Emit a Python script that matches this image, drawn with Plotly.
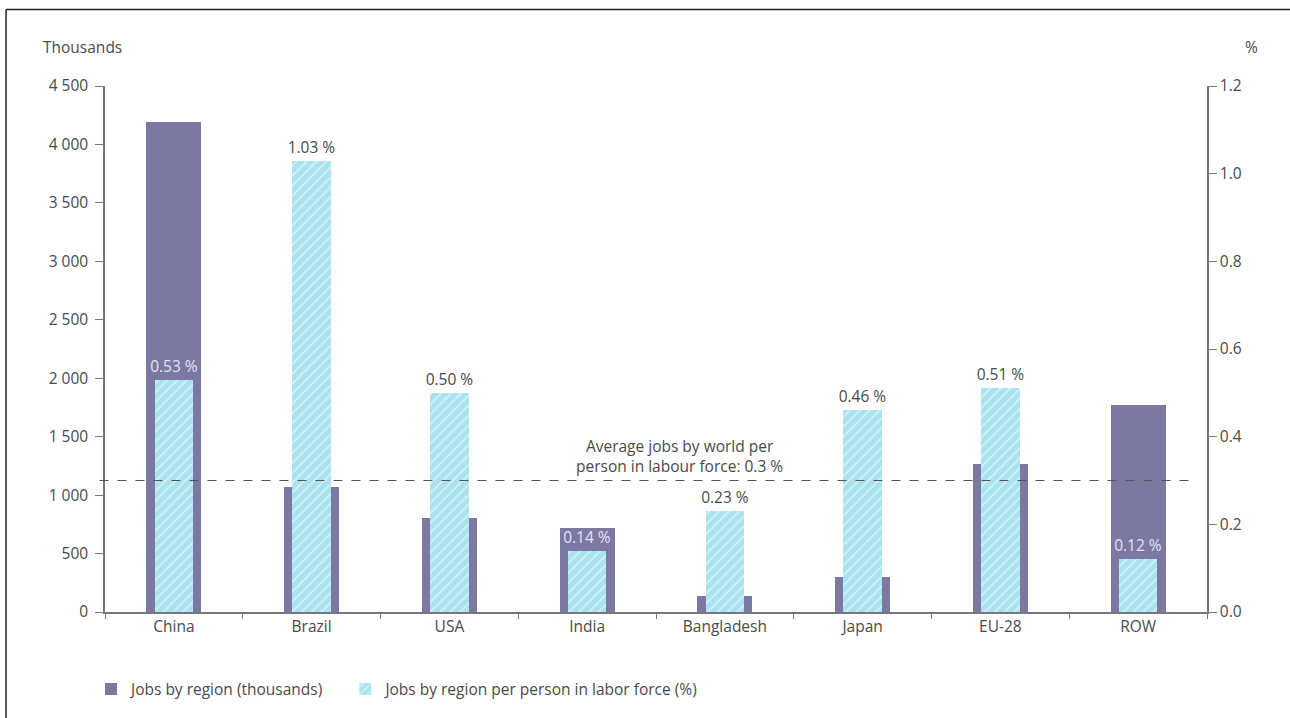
import plotly.graph_objects as go

regions = ["China", "Brazil", "USA", "India", "Bangladesh", "Japan", "EU-28", "ROW"]
jobs_thousands = [4190, 1070, 800, 720, 140, 300, 1270, 1770]
jobs_pct = [0.53, 1.03, 0.50, 0.14, 0.23, 0.46, 0.51, 0.12]
pct_labels = ["0.53 %", "1.03 %", "0.50 %", "0.14 %", "0.23 %", "0.46 %", "0.51 %", "0.12 %"]
left_ticks = [0, 500, 1000, 1500, 2000, 2500, 3000, 3500, 4000, 4500]
left_ticktext = ["0", "500", "1 000", "1 500", "2 000", "2 500", "3 000", "3 500", "4 000", "4 500"]
right_ticks = [0.0, 0.2, 0.4, 0.6, 0.8, 1.0, 1.2]
right_ticktext = ["0.0", "0.2", "0.4", "0.6", "0.8", "1.0", "1.2"]
world_avg = 0.3

DARK = "#7b79a1"
LIGHT = "#a9e3ef"
TXT = "#4a4a4a"
FONT = "Open Sans"
FS = 15.5

label_colors = []
for v, p in zip(jobs_thousands, jobs_pct):
    inside = (v / 4500) > (p / 1.2)
    label_colors.append("#e6e0f5" if inside else TXT)

fig = go.Figure()
fig.add_trace(go.Bar(
    x=regions, y=jobs_thousands, name="Jobs by region (thousands)" + "\u00a0" * 4,
    marker=dict(color=DARK, line=dict(width=0)), width=0.4, yaxis="y",
))
fig.add_trace(go.Bar(
    x=regions, y=jobs_pct, name="Jobs by region per person in labor force (%)",
    marker=dict(color=LIGHT, line=dict(width=0),
                pattern=dict(shape="/", fgcolor="#ffffff", bgcolor=LIGHT, size=7, solidity=0.25)),
    width=0.28, yaxis="y2",
    text=pct_labels, textposition="outside", cliponaxis=False, constraintext="none",
    textfont=dict(color=label_colors, size=FS, family=FONT),
))

fig.add_shape(type="line", xref="paper", yref="y2", x0=-0.005, x1=0.985,
              y0=world_avg, y1=world_avg, line=dict(color="#555555", width=1, dash="dash"))

fig.add_annotation(x=3.67, y=world_avg, xref="x", yref="y2",
                   text="Average jobs by world per<br>person in labour force: 0.3 %",
                   showarrow=False, yanchor="bottom", yshift=2,
                   font=dict(size=FS, color=TXT, family=FONT))

fig.add_annotation(x=-0.058, y=1.05, xref="paper", yref="paper", text="Thousands",
                   showarrow=False, xanchor="left", yanchor="bottom",
                   font=dict(size=FS, color=TXT, family=FONT))
fig.add_annotation(x=1.04, y=1.05, xref="paper", yref="paper", text="%",
                   showarrow=False, xanchor="center", yanchor="bottom",
                   font=dict(size=FS, color=TXT, family=FONT))

# outer frame lines (top and left)
fig.add_shape(type="line", xref="paper", yref="paper", x0=-0.0898, x1=1.2,
              y0=1.1456, y1=1.1456, line=dict(color="#222222", width=1.5))
fig.add_shape(type="line", xref="paper", yref="paper", x0=-0.0898, x1=-0.0898,
              y0=1.1456, y1=-0.3, line=dict(color="#222222", width=1.5))

fig.update_layout(
    width=1290, height=718,
    margin=dict(l=105, r=83, t=86, b=103),
    paper_bgcolor="#ffffff", plot_bgcolor="#ffffff",
    barmode="overlay", bargap=0,
    font=dict(family=FONT, size=FS, color=TXT),
    showlegend=True,
    legend=dict(orientation="h", x=-0.0127, y=-0.115, xanchor="left", yanchor="top",
                font=dict(size=FS, color=TXT, family=FONT), itemsizing="constant",
                traceorder="normal", itemwidth=30),
    xaxis=dict(type="category", showgrid=False, showline=True, linecolor="#777777", linewidth=1.5,
               ticks="outside", tickson="boundaries", ticklen=5, tickcolor="#777777",
               tickfont=dict(size=FS, color=TXT)),
    yaxis=dict(range=[0, 4500], tickvals=left_ticks, ticktext=left_ticktext, showgrid=False,
               showline=True, linecolor="#777777", linewidth=1.5, ticks="outside", ticklen=8,
               tickcolor="#777777", zeroline=False, tickfont=dict(size=FS, color=TXT),
               ticklabelstandoff=4),
    yaxis2=dict(range=[0, 1.2], tickvals=right_ticks, ticktext=right_ticktext, overlaying="y",
                side="right", showgrid=False, showline=True, linecolor="#777777", linewidth=1.5,
                ticks="outside", ticklen=8, tickcolor="#777777", zeroline=False,
                tickfont=dict(size=FS, color=TXT)),
)

fig.write_html("out.html")
